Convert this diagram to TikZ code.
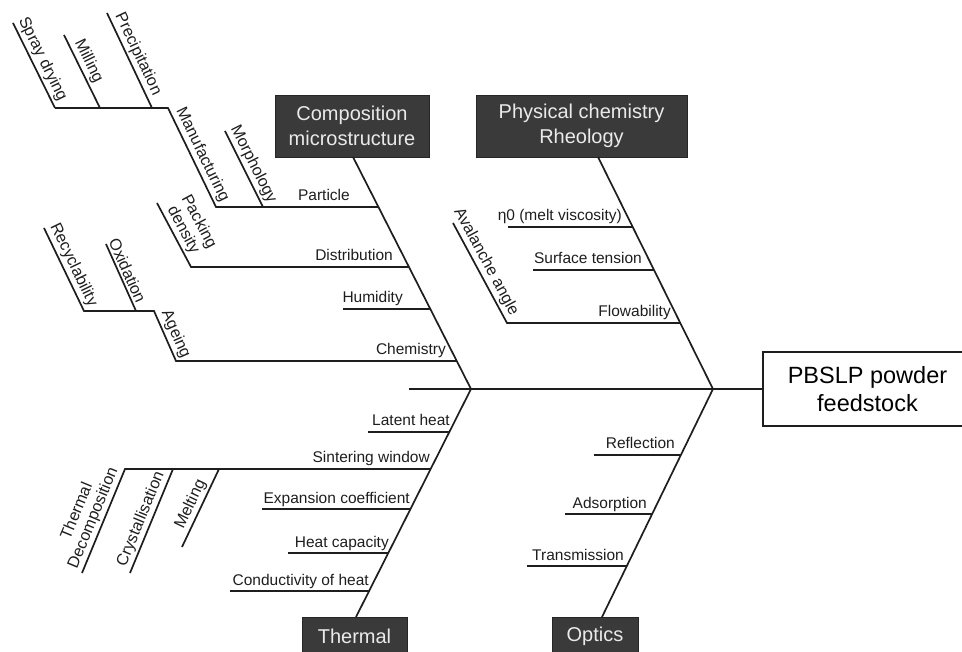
\documentclass[tikz,border=0pt]{standalone}
\usepackage{fontspec}
\setmainfont{Liberation Sans}
\definecolor{ink}{HTML}{1E1E1E}
\definecolor{boxgray}{HTML}{3A3A3A}
\definecolor{boxtext}{HTML}{EAEAEA}
\begin{document}
\begin{tikzpicture}[x=1pt,y=-1pt,
  bone/.style={draw=ink, line width=1.7pt},
  twig/.style={draw=ink, line width=1.7pt, line join=miter},
  lbl/.style={font=\fontsize{15.5}{18}\selectfont, text=ink, inner sep=0pt, anchor=base east},
  rlbl/.style={font=\fontsize{16.2}{17.5}\selectfont, text=ink, inner sep=2pt, sloped, above, align=center},
  catbox/.style={fill=boxgray, draw=black!85, line width=0.8pt, text=boxtext,
    font=\fontsize{20}{25}\selectfont, align=center, inner sep=0pt},
]
\useasboundingbox (0,0) rectangle (962,652);
\clip (0,0) rectangle (962,652);

% category boxes and effect box
\node[catbox, minimum width=154pt, minimum height=62pt] (comp) at (352,126) {Composition\\microstructure};
\node[catbox, minimum width=211pt, minimum height=62pt] (phys) at (581.5,126) {Physical chemistry\\Rheology};
\node[catbox, minimum width=105pt, minimum height=38pt] (therm) at (354.5,636) {Thermal};
\node[catbox, minimum width=86pt, minimum height=38pt] (optic) at (595,636) {Optics};
\node[draw=ink, line width=1.3pt, fill=white, minimum width=209pt, minimum height=74pt,
  font=\fontsize{23.5}{28}\selectfont, align=center, inner sep=0pt] (feed) at (867.5,389) {PBSLP powder\\feedstock};

% spine and main bones
\coordinate (spL) at (409,389);
\coordinate (jL) at (471,389);
\coordinate (jR) at (713,389);
\coordinate (cTop) at (353,157);
\coordinate (pTop) at (598,157);
\coordinate (tBot) at (356,617);
\coordinate (oBot) at (602,617);
\draw[bone] (spL) -- (feed.west);
\draw[bone] (cTop) -- (jL) -- (tBot);
\draw[bone] (pTop) -- (jR) -- (oBot);

% --- Composition / microstructure ---
\coordinate (sdT) at (13,23);   \coordinate (sdB) at (55,108);
\coordinate (miT) at (64,35);   \coordinate (miB) at (100,108);
\coordinate (prT) at (107,13);  \coordinate (prB) at (152,108);
\coordinate (mfT) at (168,108); \coordinate (mfB) at (216,207);
\coordinate (moT) at (225,131); \coordinate (moB) at (263,207);
\coordinate (paE) at (378.4,207);
\draw[twig] (sdT) -- node[rlbl, pos=.48] (tSpray) {Spray drying} (sdB);
\draw[twig] (miT) -- node[rlbl, pos=.42] (tMill) {Milling} (miB);
\draw[twig] (prT) -- node[rlbl, pos=.48] (tPrec) {Precipitation} (prB);
\draw[twig] (sdB) -- (mfT) -- node[rlbl, pos=.52] (tManu) {Manufacturing} (mfB) -- (paE);
\draw[twig] (moT) -- node[rlbl, pos=.50] (tMorph) {Morphology} (moB);
\node[lbl] (tPart) at (350,201) {Particle};

\coordinate (pdT) at (157,203); \coordinate (pdB) at (191,267);
\coordinate (diE) at (408.9,267);
\draw[twig] (pdT) -- node[rlbl, pos=.50] (tPack) {Packing\\density} (pdB) -- (diE);
\node[lbl] (tDist) at (393,261) {Distribution};

\coordinate (huS) at (343,309); \coordinate (huE) at (430.3,309);
\draw[twig] (huS) -- (huE);
\node[lbl] (tHum) at (403,303) {Humidity};

\coordinate (reT) at (44,228);  \coordinate (reB) at (84,311);
\coordinate (oxT) at (106,244); \coordinate (oxB) at (136,311);
\coordinate (agT) at (154,311); \coordinate (agB) at (176,361);
\coordinate (chE) at (456.8,361);
\draw[twig] (reT) -- node[rlbl, pos=.50] (tRecy) {Recyclability} (reB) -- (agT)
  -- node[rlbl, pos=.55] (tAge) {Ageing} (agB) -- (chE);
\draw[twig] (oxT) -- node[rlbl, pos=.45] (tOxi) {Oxidation} (oxB);
\node[lbl] (tChem) at (446,355) {Chemistry};

% --- Physical chemistry / rheology ---
\coordinate (etS) at (508,227); \coordinate (etE) at (632.7,227);
\coordinate (suS) at (533,270); \coordinate (suE) at (654,270);
\coordinate (avT) at (453,223); \coordinate (avB) at (507,323);
\coordinate (flE) at (680.3,323);
\draw[twig] (etS) -- (etE);
\draw[twig] (suS) -- (suE);
\draw[twig] (avT) -- node[rlbl, pos=.44] (tAval) {Avalanche angle} (avB) -- (flE);
\node[lbl] (tEta) at (622,221) {η0 (melt viscosity)};
\node[lbl] (tSurf) at (642,264) {Surface tension};
\node[lbl] (tFlow) at (671,317) {Flowability};

% --- Thermal ---
\coordinate (laS) at (368,432); \coordinate (laE) at (449.4,432);
\coordinate (siS) at (125,469); \coordinate (siE) at (430.8,469);
\coordinate (tdB) at (82,573);
\coordinate (crB) at (130,573); \coordinate (crT) at (173,469);
\coordinate (meB) at (182,547); \coordinate (meT) at (219,469);
\coordinate (exS) at (262,509); \coordinate (exE) at (410.7,509);
\coordinate (hcS) at (288,553); \coordinate (hcE) at (388.6,553);
\coordinate (coS) at (230,591); \coordinate (coE) at (369.6,591);
\draw[twig] (laS) -- (laE);
\draw[twig] (tdB) -- node[rlbl, pos=.49] (tDeco) {Thermal\\Decomposition} (siS) -- (siE);
\draw[twig] (crB) -- node[rlbl, pos=.48] (tCrys) {Crystallisation} (crT);
\draw[twig] (meB) -- node[rlbl, pos=.49] (tMelt) {Melting} (meT);
\draw[twig] (exS) -- (exE);
\draw[twig] (hcS) -- (hcE);
\draw[twig] (coS) -- (coE);
\node[lbl] (tLat) at (450,426) {Latent heat};
\node[lbl] (tSint) at (430,463) {Sintering window};
\node[lbl] (tExp) at (410,503) {Expansion coefficient};
\node[lbl] (tHeat) at (389,547) {Heat capacity};
\node[lbl] (tCond) at (369,585) {Conductivity of heat};

% --- Optics ---
\coordinate (rfS) at (594,455); \coordinate (rfE) at (681,455);
\coordinate (adS) at (565,514); \coordinate (adE) at (652.4,514);
\coordinate (trS) at (527,566); \coordinate (trE) at (627.2,566);
\draw[twig] (rfS) -- (rfE);
\draw[twig] (adS) -- (adE);
\draw[twig] (trS) -- (trE);
\node[lbl] (tRefl) at (675,449) {Reflection};
\node[lbl] (tAds) at (647,508) {Adsorption};
\node[lbl] (tTran) at (624,560) {Transmission};
\end{tikzpicture}
\end{document}
